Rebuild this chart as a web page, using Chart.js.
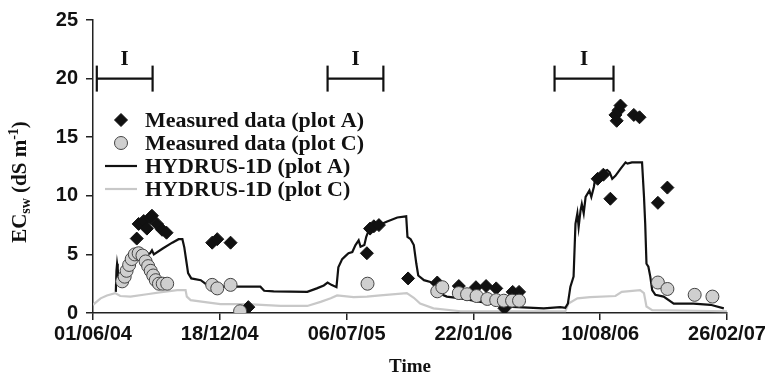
<!DOCTYPE html>
<html>
<head>
<meta charset="utf-8">
<script src="https://cdn.jsdelivr.net/npm/chart.js@4.4.1/dist/chart.umd.min.js"></script>
<style>
  html, body { margin: 0; padding: 0; background: #fff; }
  #wrap { width: 765px; height: 384px; }
</style>
</head>
<body>
<div id="wrap"><canvas id="chart" width="765" height="384"></canvas></div>
<script>
// x = days since 01/06/04, ticks every 200 days
const tickLabels = ['01/06/04', '18/12/04', '06/07/05', '22/01/06', '10/08/06', '26/02/07'];

// irrigation periods "I" (start day, end day)
const irrigation = [[6, 94], [370, 458], [728, 821]];

const measuredA = [
  [69, 6.35], [72, 7.6], [80, 7.85], [85, 7.2], [90, 8.1], [93, 8.3], [101, 7.6], [109, 7.1], [116, 6.85],
  [188, 6.0], [196, 6.3], [217, 6.0], [245, 0.5],
  [432, 5.1], [437, 7.2], [443, 7.4], [451, 7.5], [497, 2.95],
  [543, 2.6], [577, 2.3], [604, 2.2], [620, 2.3], [636, 2.1], [649, 0.4], [662, 1.8], [672, 1.8],
  [796, 11.45], [805, 11.8], [816, 9.75], [824, 16.9], [826, 16.4], [829, 17.3], [832, 17.7],
  [853, 16.9], [862, 16.7], [891, 9.4], [906, 10.7]
];

const measuredC = [
  [46, 2.7], [50, 3.1], [53, 3.6], [57, 4.1], [61, 4.6], [66, 5.0], [72, 5.1], [78, 4.9], [83, 4.4],
  [87, 4.0], [91, 3.6], [95, 3.2], [99, 2.8], [104, 2.5], [110, 2.5], [117, 2.5],
  [188, 2.4], [196, 2.1], [217, 2.4], [232, 0.15],
  [433, 2.5],
  [543, 1.85], [551, 2.2], [577, 1.7], [590, 1.6], [605, 1.45], [622, 1.2], [636, 1.1], [648, 1.05], [661, 1.05], [672, 1.05],
  [891, 2.6], [906, 2.05], [949, 1.55], [977, 1.4]
];

const hydrusA = [
  [36, 1.8], [37, 3.6], [38, 4.2], [39, 3.8], [40, 3.0], [43, 2.8], [50, 3.4], [60, 4.1], [70, 4.7], [80, 4.9],
  [90, 5.1], [93, 5.35], [96, 5.0], [110, 5.5], [125, 6.0], [135, 6.3], [141, 6.3], [144, 5.6], [147, 4.5],
  [150, 3.4], [155, 2.95], [170, 2.8], [180, 2.4], [190, 2.25], [264, 2.25], [270, 1.9], [285, 1.85],
  [338, 1.8], [353, 2.1], [364, 2.35], [370, 2.6], [376, 2.4], [384, 2.2], [387, 3.9], [393, 4.6],
  [398, 4.85], [403, 5.1], [409, 5.2], [414, 5.8], [419, 6.2], [422, 5.65], [428, 5.8], [431, 6.5],
  [437, 7.35], [453, 7.55], [464, 7.8], [480, 8.15], [494, 8.25], [496, 6.5], [501, 6.3], [506, 5.8],
  [510, 4.2], [513, 3.2], [522, 2.8], [532, 2.65], [537, 2.4], [545, 1.7], [558, 1.4], [580, 1.25],
  [632, 0.75], [653, 0.55], [711, 0.4], [737, 0.5], [745, 0.45], [749, 0.8], [753, 2.25], [758, 3.1],
  [761, 7.6], [764, 8.5], [766, 7.35], [769, 8.75], [771, 9.3], [774, 8.5], [777, 9.9], [783, 10.45],
  [786, 9.9], [790, 10.75], [792, 11.45], [798, 11.7], [803, 12.0], [811, 12.2], [815, 12.0], [819, 11.45],
  [824, 11.7], [832, 12.3], [840, 12.85], [843, 12.75], [850, 12.85], [866, 12.85], [869, 10.0], [871, 7.6],
  [873, 4.2], [876, 3.95], [879, 3.1], [882, 1.95], [887, 1.55], [900, 1.4], [916, 0.8], [947, 0.8],
  [974, 0.7], [995, 0.4]
];

const hydrusC = [
  [0, 0.7], [12, 1.25], [22, 1.5], [35, 1.7], [43, 1.45], [59, 1.4], [85, 1.6], [111, 1.8], [133, 1.95],
  [146, 1.95], [148, 1.4], [154, 1.1], [180, 0.9], [201, 0.75], [243, 0.75], [296, 0.6], [338, 0.6],
  [359, 0.95], [375, 1.25], [385, 1.5], [411, 1.35], [432, 1.4], [453, 1.5], [495, 1.7], [506, 1.3],
  [516, 0.8], [537, 0.4], [580, 0.15], [745, 0.15], [750, 0.8], [764, 1.25], [784, 1.35], [824, 1.45],
  [834, 1.8], [863, 1.95], [869, 1.7], [873, 0.55], [882, 0.25], [1000, 0.15]
];

const toXY = arr => arr.map(([x, y]) => ({ x, y }));

const irrigationPts = [];
irrigation.forEach(([a, b]) => {
  irrigationPts.push({ x: a, y: 20 }, { x: b, y: 20 }, { x: (b + 10), y: null });
});

const SERIF = '"Liberation Serif", "Times New Roman", serif';
const SANS = '"Liberation Sans", Arial, sans-serif';

const extras = {
  id: 'extras',
  afterDraw(chart) {
    const ctx = chart.ctx;
    const xs = chart.scales.x, ys = chart.scales.y;
    ctx.save();
    ctx.fillStyle = '#111';

    // "I" labels above irrigation bars
    ctx.font = 'bold 21px ' + SERIF;
    ctx.textAlign = 'center';
    ctx.textBaseline = 'middle';
    irrigation.forEach(([a, b]) => {
      ctx.fillText('I', xs.getPixelForValue((a + b) / 2), ys.getPixelForValue(21.6));
    });

    // legend
    const rows = [120, 143, 166, 189];
    chart.data.datasets.slice(0, 4).forEach((ds, i) => {
      const y = rows[i];
      if (ds.showLine === false) {
        ctx.save();
        ctx.fillStyle = ds.pointBackgroundColor;
        ctx.strokeStyle = ds.pointBorderColor;
        ctx.lineWidth = ds.pointBorderWidth;
        Chart.helpers.drawPoint(ctx, {
          pointStyle: ds.pointStyle, rotation: 0, radius: ds.pointRadius, borderWidth: ds.pointBorderWidth
        }, 121, y);
        ctx.restore();
      } else {
        ctx.beginPath();
        ctx.strokeStyle = ds.borderColor;
        ctx.lineWidth = ds.borderWidth;
        ctx.moveTo(105, y);
        ctx.lineTo(137, y);
        ctx.stroke();
      }
      ctx.fillStyle = '#111';
      ctx.font = 'bold 22px ' + SERIF;
      ctx.textAlign = 'left';
      ctx.textBaseline = 'middle';
      ctx.fillText(ds.label, 145, y + 1);
    });

    // x title
    ctx.font = 'bold 19px ' + SERIF;
    ctx.textAlign = 'center';
    ctx.fillText('Time', (chart.chartArea.left + chart.chartArea.right) / 2, 367);

    // y title with subscript / superscript
    ctx.translate(21, 182);
    ctx.rotate(-Math.PI / 2);
    ctx.textAlign = 'left';
    ctx.textBaseline = 'middle';
    const parts = [
      ['EC', 21, 0], ['sw', 14, 5], [' (dS m', 21, 0], ['-1', 14, -7], [')', 21, 0]
    ];
    let total = 0;
    parts.forEach(p => { ctx.font = 'bold ' + p[1] + 'px ' + SERIF; total += ctx.measureText(p[0]).width; });
    let cx = -total / 2;
    parts.forEach(p => {
      ctx.font = 'bold ' + p[1] + 'px ' + SERIF;
      ctx.fillText(p[0], cx, p[2]);
      cx += ctx.measureText(p[0]).width;
    });
    ctx.restore();
  }
};

new Chart(document.getElementById('chart'), {
  type: 'scatter',
  data: {
    datasets: [
      {
        label: 'Measured data (plot A)',
        data: toXY(measuredA),
        showLine: false,
        pointStyle: 'rectRot',
        pointRadius: 6.5,
        pointBackgroundColor: '#111',
        pointBorderColor: '#111',
        pointBorderWidth: 1,
        order: 2
      },
      {
        label: 'Measured data (plot C)',
        data: toXY(measuredC),
        showLine: false,
        pointStyle: 'circle',
        pointRadius: 6.5,
        pointBackgroundColor: '#cfcfcf',
        pointBorderColor: '#444',
        pointBorderWidth: 1,
        order: 1
      },
      {
        label: 'HYDRUS-1D (plot A)',
        data: toXY(hydrusA),
        showLine: true,
        borderColor: '#111',
        borderWidth: 2.2,
        pointRadius: 0,
        tension: 0,
        order: 4
      },
      {
        label: 'HYDRUS-1D (plot C)',
        data: toXY(hydrusC),
        showLine: true,
        borderColor: '#c8c8c8',
        borderWidth: 2.2,
        pointRadius: 0,
        tension: 0,
        order: 5
      },
      {
        label: 'I',
        data: irrigationPts,
        showLine: true,
        spanGaps: false,
        borderColor: '#111',
        borderWidth: 2.2,
        pointStyle: 'line',
        rotation: 90,
        pointRadius: 13,
        pointBorderColor: '#111',
        pointBorderWidth: 2.2,
        order: 3
      }
    ]
  },
  options: {
    responsive: false,
    animation: false,
    events: [],
    layout: { padding: { left: 0, right: 38, top: 19, bottom: 0 } },
    plugins: { legend: { display: false }, tooltip: { enabled: false } },
    scales: {
      x: {
        type: 'linear',
        min: 0,
        max: 1000,
        afterFit(s) { s.height = 71; s.paddingLeft = 0; s.paddingRight = 0; },
        ticks: {
          stepSize: 200,
          autoSkip: false,
          maxRotation: 0,
          padding: 2,
          color: '#111',
          font: { family: SANS, size: 20, weight: 'bold' },
          callback: v => tickLabels[Math.round(v / 200)]
        },
        grid: { drawOnChartArea: false, drawTicks: true, tickLength: 7, color: '#222', lineWidth: 1.5 },
        border: { display: true, color: '#222', width: 1.5 }
      },
      y: {
        min: 0,
        max: 25,
        afterFit(s) { s.width = 93; },
        ticks: {
          stepSize: 5,
          padding: 8,
          color: '#111',
          font: { family: SANS, size: 20, weight: 'bold' }
        },
        grid: { drawOnChartArea: false, drawTicks: true, tickLength: 7, color: '#222', lineWidth: 1.5 },
        border: { display: true, color: '#222', width: 1.5 }
      }
    }
  },
  plugins: [extras]
});
</script>
</body>
</html>
